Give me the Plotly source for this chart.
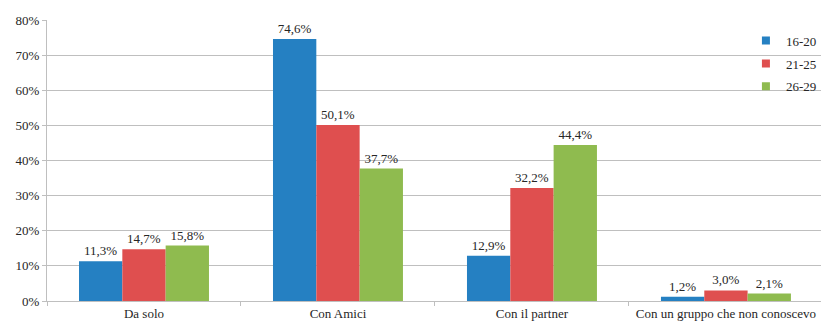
import plotly.graph_objects as go

categories = ["Da solo", "Con Amici", "Con il partner", "Con un gruppo che non conoscevo"]
series_names = ["16-20", "21-25", "26-29"]
values_16_20 = [11.3, 74.6, 12.9, 1.2]
values_21_25 = [14.7, 50.1, 32.2, 3.0]
values_26_29 = [15.8, 37.7, 44.4, 2.1]
colors = ["#2580c2", "#df4f4f", "#8fbb4f"]

y_tickvals = [0, 10, 20, 30, 40, 50, 60, 70, 80]
y_ticktext = [f"{v}%" for v in y_tickvals]

font_family = "Liberation Serif, Times New Roman, serif"
text_color = "#262626"


def pct_label(v):
    return f"{v:.1f}".replace(".", ",") + "%"


fig = go.Figure()
for i, (name, vals) in enumerate(zip(series_names, [values_16_20, values_21_25, values_26_29])):
    fig.add_trace(go.Bar(
        name=name,
        x=categories,
        y=vals,
        marker=dict(color=colors[i], line=dict(width=0)),
        text=[pct_label(v) for v in vals],
        textposition="outside",
        cliponaxis=False,
        textfont=dict(family=font_family, size=13, color=text_color),
        showlegend=False,
    ))

# small square swatches for the legend
for i, name in enumerate(series_names):
    fig.add_trace(go.Scatter(
        name=name,
        x=[None], y=[None],
        mode="markers",
        marker=dict(symbol="square", size=8, color=colors[i]),
        legendgroup=name,
        showlegend=True,
    ))

fig.update_layout(
    width=821,
    height=324,
    margin=dict(l=47, r=0, t=20, b=23, autoexpand=False),
    paper_bgcolor="white",
    plot_bgcolor="white",
    barmode="group",
    bargap=0.33,
    bargroupgap=0,
    font=dict(family=font_family, size=13, color=text_color),
    showlegend=True,
    legend=dict(
        x=0.903, y=0.98, xanchor="left", yanchor="top",
        bgcolor="rgba(0,0,0,0)",
        font=dict(family=font_family, size=13, color=text_color),
        traceorder="grouped",
        tracegroupgap=3,
        itemwidth=30,
    ),
)

fig.update_xaxes(
    type="category",
    range=[-0.5, 3.49],
    automargin=False,
    tickson="boundaries",
    ticks="outside",
    ticklen=4,
    tickcolor="#bfbfbf",
    showline=True,
    linecolor="#bfbfbf",
    linewidth=1,
    showgrid=False,
    tickfont=dict(family=font_family, size=13, color=text_color),
)

fig.update_yaxes(
    range=[0, 80],
    automargin=False,
    tickvals=y_tickvals,
    ticktext=y_ticktext,
    ticks="outside",
    ticklen=4,
    tickcolor="#bfbfbf",
    showline=True,
    linecolor="#bfbfbf",
    linewidth=1,
    showgrid=True,
    gridcolor="#bfbfbf",
    gridwidth=1,
    zeroline=False,
    tickfont=dict(family=font_family, size=13, color=text_color),
)

fig.write_html("out.html")
